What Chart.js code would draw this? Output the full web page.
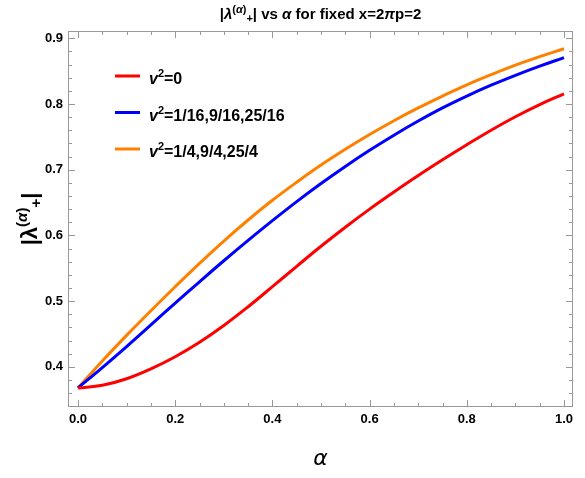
<!DOCTYPE html>
<html>
<head>
<meta charset="utf-8">
<script src="https://cdn.jsdelivr.net/npm/chart.js@4.4.1/dist/chart.umd.min.js"></script>
<style>
  html, body { margin: 0; padding: 0; background: #fff; }
  #grafico { display: block; }
</style>
</head>
<body>
<canvas id="grafico" width="585" height="478"></canvas>
<script>
// Datos
const alpha = [0, 0.05, 0.1, 0.15, 0.2, 0.25, 0.3, 0.35, 0.4, 0.45, 0.5, 0.55, 0.6, 0.65, 0.7, 0.75, 0.8, 0.85, 0.9, 0.95, 1.0];
const seriesNames = ['v²=0', 'v²=1/16,9/16,25/16', 'v²=1/4,9/4,25/4'];
const seriesColors = ['#ff0000', '#0000ff', '#ff8000'];
const lambdaV0 = [0.368, 0.372, 0.382, 0.397, 0.4155, 0.4375, 0.463, 0.4915, 0.522, 0.553, 0.5835, 0.6125, 0.640, 0.666, 0.691, 0.715, 0.738, 0.760, 0.7805, 0.799, 0.8155];
const lambdaV16 = [0.368, 0.399, 0.431, 0.464, 0.497, 0.5295, 0.5615, 0.5925, 0.6225, 0.6515, 0.679, 0.705, 0.7295, 0.7525, 0.774, 0.794, 0.812, 0.8285, 0.8435, 0.8575, 0.8705];
const lambdaV4 = [0.368, 0.409, 0.448, 0.4855, 0.522, 0.5575, 0.5915, 0.6235, 0.6535, 0.681, 0.707, 0.731, 0.7535, 0.7745, 0.794, 0.812, 0.829, 0.8445, 0.859, 0.872, 0.884];
const xTicks = [0, 0.2, 0.4, 0.6, 0.8, 1.0];
const yTicks = [0.4, 0.5, 0.6, 0.7, 0.8, 0.9];

const FUENTE = "'Liberation Sans', Arial, sans-serif";

// dibuja texto con partes (super/subindices) centrado en x
const textoRico = (ctx, partes, x, y) => {
  let ancho = 0;
  partes.forEach(p => { ctx.font = p[1]; ancho += ctx.measureText(p[0]).width });
  let cx = x - ancho / 2;
  partes.forEach(p => {
    ctx.font = p[1];
    ctx.fillText(p[0], cx, y + p[2]);
    cx += ctx.measureText(p[0]).width;
  });
}

// marco y marcas hacia dentro (estilo Mathematica)
const marco = {
  id: 'marco',
  beforeDatasetsDraw(chart) {
    const { ctx, chartArea: a, scales: { x, y } } = chart;
    ctx.save();
    ctx.strokeStyle = '#999999';
    ctx.lineWidth = 1;
    ctx.strokeRect(a.left + 0.5, a.top + 0.5, a.right - a.left - 1, a.bottom - a.top - 1);
    ctx.beginPath();
    for (let i = 0; i <= 20; i++) {
      const px = Math.round(x.getPixelForValue(i * 0.05)) + 0.5;
      const len = i % 4 === 0 ? 7 : 4;
      ctx.moveTo(px, a.bottom); ctx.lineTo(px, a.bottom - len);
      ctx.moveTo(px, a.top); ctx.lineTo(px, a.top + len);
    }
    for (let i = 17; i <= 45; i++) {
      const py = Math.round(y.getPixelForValue(i * 0.02)) + 0.5;
      const len = i % 5 === 0 ? 7 : 4;
      ctx.moveTo(a.left, py); ctx.lineTo(a.left + len, py);
      ctx.moveTo(a.right, py); ctx.lineTo(a.right - len, py);
    }
    ctx.stroke();
    ctx.restore();
  },
  afterDraw(chart) {
    const { ctx, chartArea: a } = chart;
    ctx.save();
    ctx.fillStyle = '#000';
    ctx.textBaseline = 'alphabetic';
    ctx.textAlign = 'left';
    // Titulo
    const b15 = `bold 15px ${FUENTE}`, b11 = `bold 11px ${FUENTE}`, i15t = `italic bold 15px ${FUENTE}`, i11 = `italic bold 11px ${FUENTE}`;
    textoRico(ctx, [
      ['|', b15, 0], ['λ', i15t, 0], ['(', b11, -6], ['α', i11, -6], [')', b11, -6], ['+', b11, 3],
      ['| vs ', b15, 0], ['α', i15t, 0], [' for fixed x=2', b15, 0], ['π', i15t, 0], ['p=2', b15, 0]
    ], (a.left + a.right) / 2, 19);
    // Etiqueta eje y
    ctx.translate(37, (a.top + a.bottom) / 2);
    ctx.rotate(-Math.PI / 2);
    const b22 = `bold 22px ${FUENTE}`, b15y = `bold 15px ${FUENTE}`, i15 = `italic bold 15px ${FUENTE}`;
    textoRico(ctx, [
      ['|', b22, 0], ['λ', b22, 0], ['(', b15y, -10], ['α', i15, -10], [')', b15y, -10], ['+', b15y, 4], ['|', b22, 0]
    ], 0, 0);
    ctx.restore();

    // Leyenda
    ctx.save();
    ctx.textBaseline = 'alphabetic';
    ctx.textAlign = 'left';
    chart.data.datasets.forEach((ds, i) => {
      const yy = 76 + i * 36.5;
      ctx.strokeStyle = ds.borderColor;
      ctx.lineWidth = 3;
      ctx.beginPath();
      ctx.moveTo(115, yy); ctx.lineTo(140, yy);
      ctx.stroke();
      const [v, resto] = ds.label.split('²');
      ctx.fillStyle = '#000';
      let cx = 149;
      ctx.font = `italic bold 16px ${FUENTE}`;
      ctx.fillText(v, cx, yy + 8); cx += ctx.measureText(v).width;
      ctx.font = `bold 11px ${FUENTE}`;
      ctx.fillText('2', cx, yy + 1); cx += ctx.measureText('2').width;
      ctx.font = `bold 16px ${FUENTE}`;
      ctx.fillText(resto, cx, yy + 8);
    });
    ctx.restore();
  }
};

const serie = (vals, i) => ({
  label: seriesNames[i],
  data: vals.map((v, k) => ({ x: alpha[k], y: v })),
  borderColor: seriesColors[i],
  backgroundColor: seriesColors[i],
  borderWidth: 3,
  pointRadius: 0,
  fill: false,
  tension: 0.4
});

const grafico = new Chart(document.getElementById('grafico'), {
  type: 'line',
  data: { datasets: [serie(lambdaV0, 0), serie(lambdaV16, 1), serie(lambdaV4, 2)] },
  options: {
    responsive: false,
    animation: false,
    layout: { padding: { top: 31, right: 12, left: 0, bottom: 0 } },
    plugins: { legend: { display: false }, title: { display: false }, tooltip: { enabled: false } },
    scales: {
      x: {
        type: 'linear', min: -0.0206, max: 1.0185,
        grid: { display: false, drawTicks: false }, border: { display: false },
        afterBuildTicks: s => { s.ticks = xTicks.map(v => ({ value: v })) },
        afterFit: s => { s.height = 71 },
        ticks: { padding: 5, color: '#000', autoSkip: false, maxRotation: 0, font: { family: FUENTE, size: 13, weight: 'bold' }, callback: v => v.toFixed(1) },
        title: { display: true, text: 'α', color: '#000', font: { family: "'DejaVu Sans', sans-serif", size: 22, style: 'italic' }, padding: { top: 0, bottom: 6 } }
      },
      y: {
        type: 'linear', min: 0.339, max: 0.911,
        grid: { display: false, drawTicks: false }, border: { display: false },
        afterBuildTicks: s => { s.ticks = yTicks.map(v => ({ value: v })) },
        afterFit: s => { s.width = 68 },
        ticks: { padding: 5, color: '#000', autoSkip: false, font: { family: FUENTE, size: 13, weight: 'bold' }, callback: v => v.toFixed(1) }
      }
    }
  },
  plugins: [marco]
});
</script>
</body>
</html>
